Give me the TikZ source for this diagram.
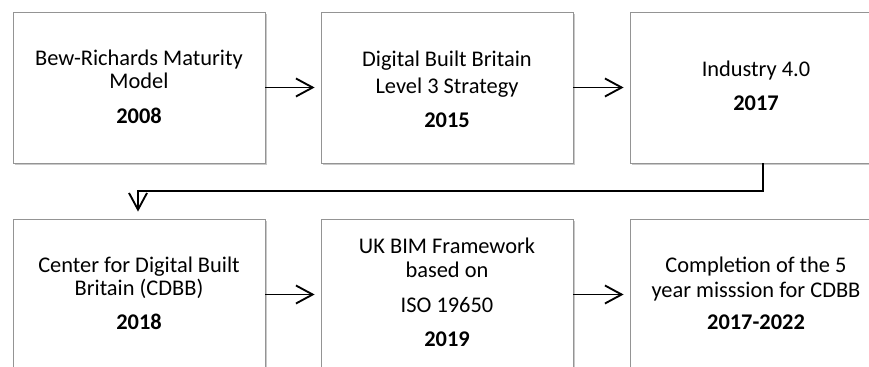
\documentclass[tikz,border=0pt]{standalone}
\usepackage{fontspec}
\setmainfont{Carlito}
\usetikzlibrary{arrows.meta,shadows}
\tikzset{
  box/.style={draw=black!42, line width=0.6pt, fill=white, minimum width=252*0.75pt, minimum height=151*0.75pt, inner sep=0pt,
    drop shadow={shadow xshift=1.2pt, shadow yshift=-1.2pt, fill=black!30, opacity=0.7}},
  txt/.style={anchor=base, inner sep=0pt, font=\fontsize{16.8}{19}\selectfont},
  yr/.style={txt, font=\fontsize{16.8}{19}\selectfont\bfseries},
  arr/.style={line width=1.4pt, -{Straight Barb[length=12.5pt,width=13.5pt,line width=1.4pt]}},
  link/.style={line width=1.4pt}
}
\begin{document}
\begin{tikzpicture}[x=0.75pt,y=-0.75pt]
\useasboundingbox (0,0) rectangle (869,367);
\clip (0,0) rectangle (869,367);
% top row
\node[box] (b1) at (139,87.5) {};
\node[box] (b2) at (447,87.5) {};
\node[box] (b3) at (756,87.5) {};
% bottom row
\node[box] (b4) at (139,294.5) {};
\node[box] (b5) at (447,294.5) {};
\node[box] (b6) at (756,294.5) {};
% texts
\node[txt] (t11) at (139,66) {Bew-Richards Maturity};
\node[txt] (t12) at (139,89) {Model};
\node[yr]  (t13) at (139,124) {2008};
\node[txt] (t21) at (447,67) {Digital Built Britain};
\node[txt] (t22) at (447,94) {Level 3 Strategy};
\node[yr]  (t23) at (447,128) {2015};
\node[txt] (t31) at (756,77) {Industry 4.0};
\node[yr]  (t32) at (756,111) {2017};
\node[txt] (t41) at (139,273) {Center for Digital Built};
\node[txt] (t42) at (139,296) {Britain (CDBB)};
\node[yr]  (t43) at (139,330) {2018};
\node[txt] (t51) at (447,254) {UK BIM Framework};
\node[txt] (t52) at (447,278) {based on};
\node[txt] (t53) at (447,313) {ISO 19650};
\node[yr]  (t54) at (447,347) {2019};
\node[txt] (t61) at (756,273) {Completion of the 5};
\node[txt] (t62) at (756,298) {year misssion for CDBB};
\node[yr]  (t63) at (756,330) {2017-2022};
% connectors
\draw[arr, shorten >=6*0.75pt] (b1.east) -- (b2.west);
\draw[arr, shorten >=6*0.75pt] (b2.east) -- (b3.west);
\draw[arr, shorten >=6*0.75pt] (b4.east) -- (b5.west);
\draw[arr, shorten >=6*0.75pt] (b5.east) -- (b6.west);
\coordinate (k1) at (763,191);
\coordinate (k2) at (138,191);
\draw[arr, shorten >=7*0.75pt] (b3.south -| k1) -- (k1) -- (k2) -- (b4.north -| k2);
\end{tikzpicture}
\end{document}
